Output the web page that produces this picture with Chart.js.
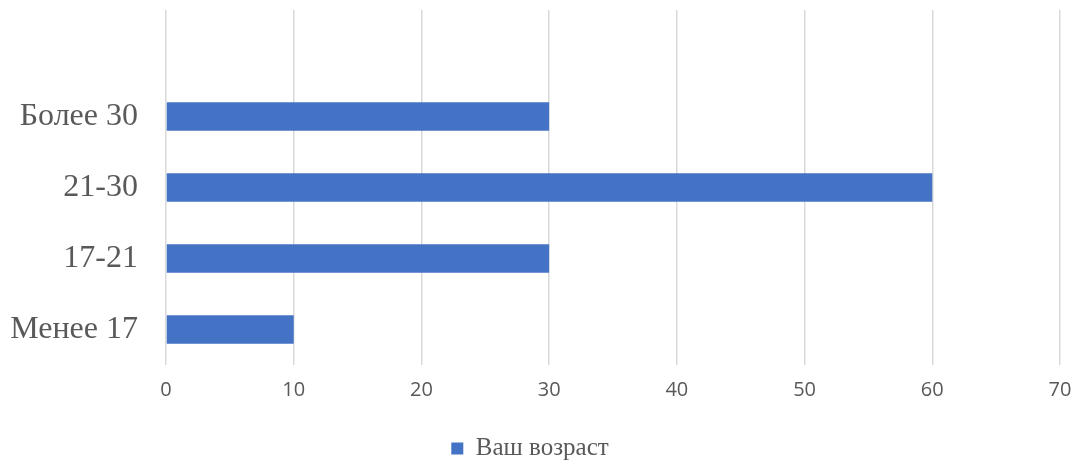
<!DOCTYPE html>
<html>
<head>
<meta charset="utf-8">
<script src="https://cdn.jsdelivr.net/npm/chart.js@4/dist/chart.umd.min.js"></script>
<style>
    html, body { margin: 0; padding: 0; background: #fff; }
    #wrap { width: 1082px; height: 463px; }
</style>
</head>
<body>
<div id="wrap"><canvas id="ageChart"></canvas></div>
<script>
// категории сверху вниз (верхний слот пустой, как в исходной диаграмме)
const categories = ['', 'Более 30', '21-30', '17-21', 'Менее 17'];
const ageValues = [null, 30, 60, 30, 10];
const seriesName = 'Ваш возраст';
const xMax = 70;
const xStep = 10;

const ctx = document.getElementById('ageChart').getContext('2d');

const ageChart = new Chart(ctx, {
    type: 'bar',
    data: {
        labels: categories,
        datasets: [{
            label: seriesName,
            data: ageValues,
            backgroundColor: '#4472C4',
            borderWidth: 0,
            barPercentage: 0.404,
            categoryPercentage: 1
        }]
    },
    options: {
        indexAxis: 'y',
        responsive: true,
        maintainAspectRatio: false,
        animation: false,
        layout: {
            padding: { top: 10, right: 22, left: 0, bottom: -8 }
        },
        scales: {
            x: {
                min: 0,
                max: xMax,
                ticks: {
                    stepSize: xStep,
                    padding: 13,
                    color: '#595959',
                    font: { family: 'Open Sans', size: 20 }
                },
                grid: {
                    color: '#d9d9d9',
                    lineWidth: 1.5,
                    drawTicks: false
                },
                border: { display: false },
                afterFit: (scale) => {
                    scale.height = 68;
                    scale.paddingLeft = 0;
                    scale.paddingRight = 0;
                }
            },
            y: {
                ticks: {
                    padding: 20,
                    color: '#595959',
                    font: { family: 'Liberation Serif', size: 32 }
                },
                grid: { display: false },
                border: { display: false },
                afterFit: (scale) => {
                    scale.width = 166;
                    scale.paddingTop = 0;
                    scale.paddingBottom = 0;
                }
            }
        },
        plugins: {
            legend: {
                position: 'bottom',
                labels: {
                    boxWidth: 12,
                    boxHeight: 12,
                    padding: 3,
                    color: '#595959',
                    font: { family: 'Liberation Serif', size: 25 }
                }
            },
            tooltip: { enabled: false }
        }
    }
});
</script>
</body>
</html>
